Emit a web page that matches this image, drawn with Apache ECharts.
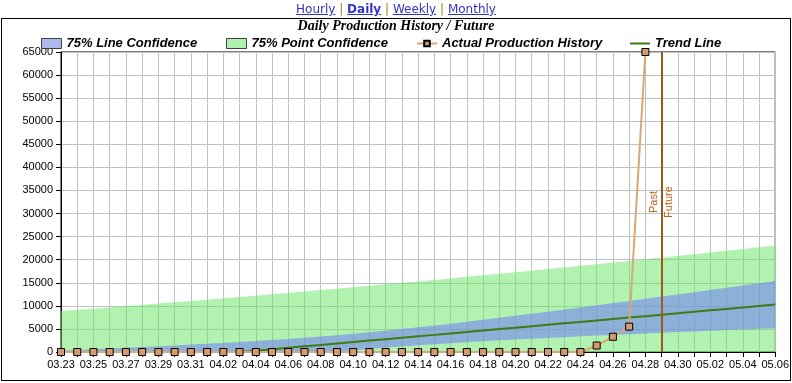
<!DOCTYPE html>
<html><head><meta charset="utf-8">
<script src="https://cdn.jsdelivr.net/npm/echarts@6/dist/echarts.min.js"></script>
<style>
html,body{margin:0;padding:0;background:#fff;width:792px;height:383px;overflow:hidden;}
#frame{position:absolute;left:1px;top:18px;width:790px;height:363px;border:1px solid #000;box-sizing:border-box;}
#chart{position:absolute;left:0;top:0;width:792px;height:383px;}
#links{position:absolute;left:0;top:1px;width:792px;text-align:center;font-family:"DejaVu Sans",sans-serif;font-size:12px;line-height:16px;}
#links a{color:#3333cc;text-decoration:underline;}
#links .sep{color:#b07818;}
</style></head>
<body>
<div id="frame"></div>
<div id="chart"></div>
<div id="links"><a>Hourly</a> <span class="sep">|</span> <a><b>Daily</b></a> <span class="sep">|</span> <a>Weekly</a> <span class="sep">|</span> <a>Monthly</a></div>
<script>
const dates = ['03.23','03.24','03.25','03.26','03.27','03.28','03.29','03.30','03.31',
  '04.01','04.02','04.03','04.04','04.05','04.06','04.07','04.08','04.09','04.10',
  '04.11','04.12','04.13','04.14','04.15','04.16','04.17','04.18','04.19','04.20',
  '04.21','04.22','04.23','04.24','04.25','04.26','04.27','04.28','04.29','04.30',
  '05.01','05.02','05.03','05.04','05.05','05.06'];
const actual = [0,0,0,0,0,0,0,0,0,0,0,0,0,0,0,0,0,0,0,0,0,0,0,0,0,0,0,0,0,0,0,0,0,
  1400,3300,5500,65000];
const trend = [null,null,null,null,null,null,null,null,null,null,null,
  0,280,590,900,1220,1530,1840,2150,2470,2780,3090,3400,3710,4030,4340,4650,4960,
  5270,5590,5900,6210,6520,6830,7150,7460,7770,8080,8390,8710,9020,9330,9640,9950,10270];
const lineLow = [0,0,0,0,0,0,0,0,0,0,0,0,0,0,0,0,0,40,360,660,950,1210,1470,1700,
  1920,2130,2330,2520,2710,2890,3060,3220,3390,3550,3700,3860,4010,4160,4310,4450,
  4600,4740,4880,5030,5170];
const lineHigh = [300,450,600,760,920,1080,1250,1420,1600,1780,1970,2170,2380,2610,
  2840,3090,3360,3640,3950,4270,4610,4960,5340,5730,6130,6540,6970,7400,7840,8290,
  8740,9190,9660,10120,10590,11060,11530,12000,12480,12960,13440,13920,14400,14880,15370];
const pointHigh = [8860,9130,9390,9660,9940,10210,10490,10770,11050,11330,11620,11910,
  12210,12500,12800,13110,13410,13720,14030,14340,14660,14980,15300,15620,15950,16280,
  16610,16950,17290,17630,17980,18320,18670,19020,19380,19740,20100,20460,20820,21190,
  21560,21930,22310,22680,23060];
const yTicks = {min:0, max:65000, interval:5000};
const splitDate = '04.29';

const chart = echarts.init(document.getElementById('chart'), null, {renderer:'canvas'});
const legText = {fontFamily:'Liberation Sans', fontStyle:'italic', fontWeight:'bold', fontSize:13, color:'#000'};
const legBase = {top:37, itemWidth:20, itemHeight:10, padding:0, textStyle:legText, selectedMode:false};
const axisFont = {fontFamily:'Liberation Sans', fontSize:11, color:'#000'};
chart.setOption({
  animation:false,
  title:{text:'Daily Production History / Future', left:'center', top:19, padding:0,
    textStyle:{fontFamily:'Liberation Serif', fontStyle:'italic', fontWeight:'bold', fontSize:14, color:'#000'}},
  legend:[
    Object.assign({}, legBase, {left:41, data:[{name:'75% Line Confidence', icon:'rect', itemStyle:{color:'#b0b8f0', borderColor:'#404040', borderWidth:1}}]}),
    Object.assign({}, legBase, {left:226, data:[{name:'75% Point Confidence', icon:'rect', itemStyle:{color:'#b0f0b0', borderColor:'#404040', borderWidth:1}}]}),
    Object.assign({}, legBase, {left:416, itemHeight:7, data:['Actual Production History']}),
    Object.assign({}, legBase, {left:630, top:37, itemHeight:2, data:[{name:'Trend Line', icon:'rect', itemStyle:{color:'#3a7d10', borderWidth:0}}]})
  ],
  grid:{left:61, right:16, top:52, bottom:31, show:true, borderColor:'#000', borderWidth:1, containLabel:false},
  xAxis:{type:'category', data:dates, boundaryGap:false,
    axisLine:{lineStyle:{color:'#000', width:1}},
    axisTick:{interval:0, length:5, lineStyle:{color:'#000'}},
    axisLabel:Object.assign({interval:1, margin:7}, axisFont),
    splitLine:{show:true, interval:0, lineStyle:{color:'#c0c0c0', width:1}}},
  yAxis:{type:'value', min:yTicks.min, max:yTicks.max, interval:yTicks.interval,
    axisLine:{show:true, lineStyle:{color:'#000', width:1}},
    axisTick:{show:true, length:5, lineStyle:{color:'#000'}},
    axisLabel:Object.assign({margin:8, formatter:v=>String(v)}, axisFont),
    splitLine:{show:true, lineStyle:{color:'#c0c0c0', width:1}}},
  series:[
    {name:'75% Point Confidence', type:'line', data:pointHigh, symbol:'none',
      itemStyle:{color:'#b0f0b0'}, lineStyle:{width:0},
      areaStyle:{color:'rgba(100,230,100,0.5)', opacity:1}, z:1},
    {name:'lcBase', type:'line', stack:'lc', data:lineLow, symbol:'none', lineStyle:{width:0}, z:2},
    {name:'75% Line Confidence', type:'line', stack:'lc', data:lineHigh.map((v,i)=>v-lineLow[i]),
      symbol:'none', itemStyle:{color:'#b0b8f0'}, lineStyle:{width:0},
      areaStyle:{color:'rgba(117,132,242,0.6)', opacity:1}, z:2},
    {name:'Trend Line', type:'line', data:trend, symbol:'none',
      itemStyle:{color:'#3a7d10'}, lineStyle:{color:'#3a7d10', width:2}, z:3},
    {name:'Actual Production History', type:'line', data:actual, symbol:'rect', symbolSize:7,
      itemStyle:{color:'#d49c6c', borderColor:'#000', borderWidth:1},
      lineStyle:{color:'#dca676', width:2}, z:5,
      markLine:{silent:true, symbol:['none','none'],
        lineStyle:{color:'#9a5a1e', width:2, type:'solid'},
        label:{color:'#b8651a', fontFamily:'Liberation Sans', fontSize:11, distance:2},
        data:[
          {xAxis:splitDate, label:{formatter:'Past', position:'insideMiddleTop'}},
          {xAxis:splitDate, label:{formatter:'Future', position:'insideMiddleBottom'}}
        ]}}
  ]
});
</script>
</body></html>
